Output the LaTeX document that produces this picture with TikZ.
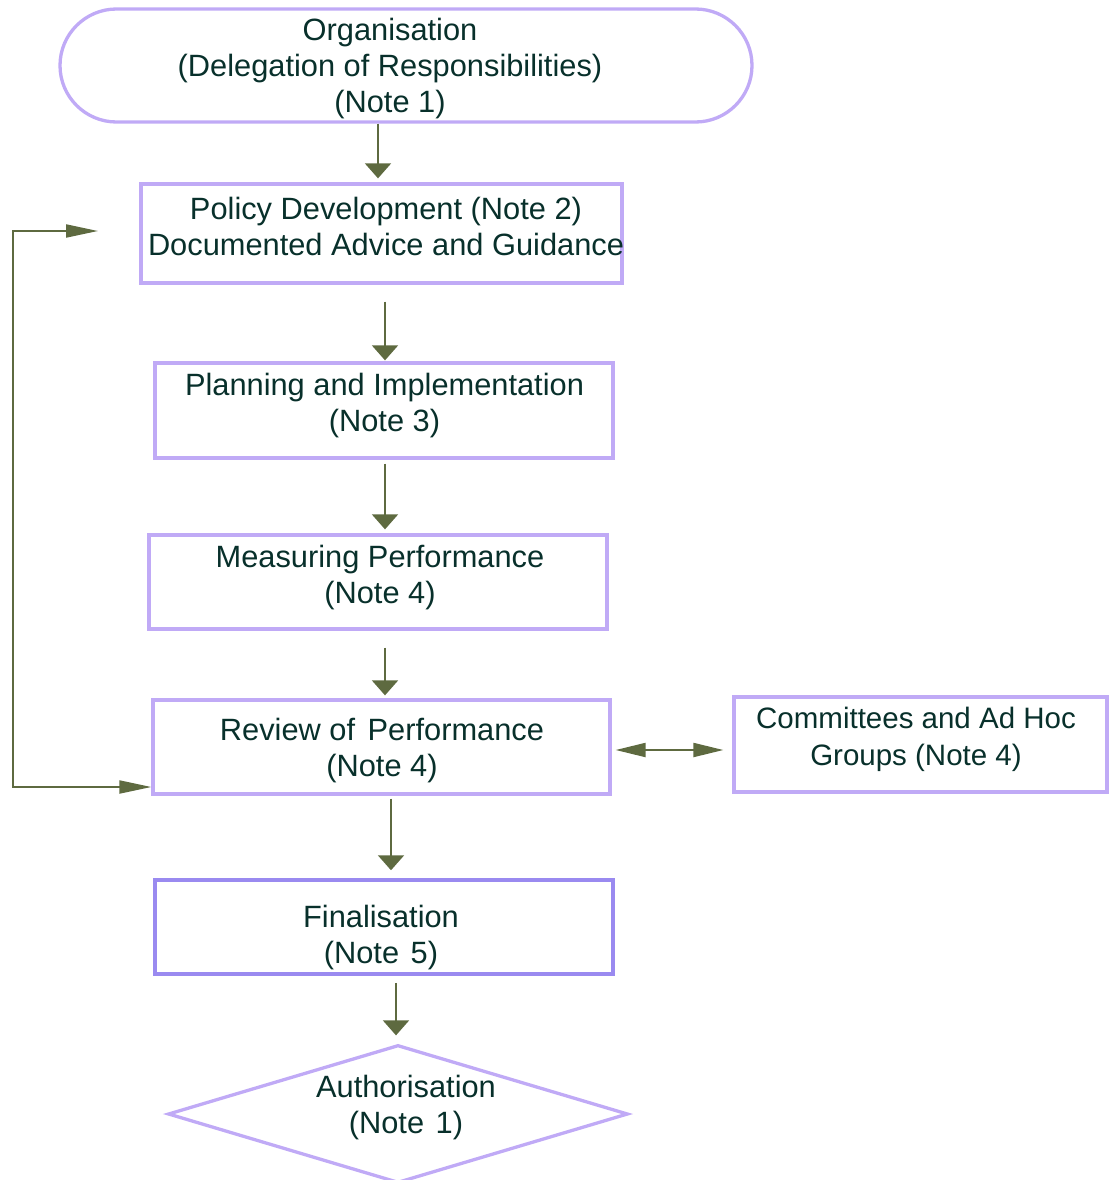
\documentclass[tikz,border=0pt]{standalone}
\usepackage{fontspec}
\setmainfont{Liberation Sans}
\usetikzlibrary{shapes.misc,shapes.geometric,arrows.meta}
\definecolor{lav}{HTML}{C0AAF6}
\definecolor{lavd}{HTML}{9A8AF0}
\definecolor{txtc}{HTML}{08302B}
\definecolor{arr}{HTML}{5E6A40}
\begin{document}
\begin{tikzpicture}[x=1pt,y=-1pt,
 box/.style={draw=lav,line width=3.3pt,rectangle,inner sep=0pt},
 txt/.style={text=txtc,font=\fontsize{30.8}{36}\selectfont,align=center,inner sep=0pt},
 varr/.style={draw=arr,line width=2pt,-{Triangle[length=15pt,width=26pt]}},
 harr/.style={draw=arr,line width=2pt,{Triangle[length=30pt,width=14pt]}-{Triangle[length=30pt,width=14pt]}},
]
\useasboundingbox (0,0) rectangle (1112,1180);
% shapes
\node[rounded rectangle,draw=lav,line width=3.3pt,inner sep=0pt,minimum width=692pt,minimum height=113pt] (org) at (406,65.5) {};
\node[box,minimum width=481pt,minimum height=99pt] (policy) at (381.5,233.5) {};
\node[box,minimum width=458pt,minimum height=95pt] (plan) at (384,410.5) {};
\node[box,minimum width=458pt,minimum height=94pt] (meas) at (378,582) {};
\node[box,minimum width=457pt,minimum height=94pt] (review) at (381.5,747) {};
\node[box,minimum width=373pt,minimum height=95pt] (comm) at (920.5,744.5) {};
\node[box,draw=lavd,line width=3.5pt,minimum width=458pt,minimum height=94pt] (final) at (384,927) {};
\node[diamond,draw=lav,line width=3.3pt,inner sep=0pt,minimum width=460pt,minimum height=138pt] (dia) at (398,1114) {};
% texts
\node[txt] (orgT) at (390,69) {Organisation\\(Delegation of Responsibilities)\\(Note 1)};
\node[txt] (policyT) at (386,226) {Policy Development (Note 2)\\Documented Advice and Guidance};
\node[txt] (planT) at (384.5,405.5) {Planning and Implementation\\(Note 3)};
\node[txt] (measT) at (380,578) {Measuring Performance\\(Note 4)};
\node[txt] (reviewT) at (382,751) {Review of\hspace{4pt} Performance\\(Note 4)};
\node[txt,font=\fontsize{29.5}{37}\selectfont] (commT) at (916,739) {Committees and Ad Hoc\\Groups (Note 4)};
\node[txt] (finalT) at (381,937.5) {Finalisation\\(Note\hspace{3pt} 5)};
\node[txt] (diaT) at (406,1107.5) {Authorisation\\(Note\hspace{3pt} 1)};
% connectors
\draw[varr] ([xshift=-28pt]org.south) -- ([xshift=-3.5pt,yshift=4pt]policy.north);
\draw[varr] ([xshift=3.5pt,yshift=-17pt]policy.south) -- ([xshift=1pt,yshift=1pt]plan.north);
\draw[varr] ([xshift=1pt,yshift=-4pt]plan.south) -- ([xshift=7pt,yshift=4pt]meas.north);
\draw[varr] ([xshift=7pt,yshift=-17pt]meas.south) -- ([xshift=3.5pt,yshift=3pt]review.north);
\draw[varr] ([xshift=9.5pt,yshift=-3pt]review.south) -- ([xshift=7pt,yshift=8pt]final.north);
\draw[varr] ([xshift=12pt,yshift=-7pt]final.south) -- ([xshift=-2pt,yshift=8pt]dia.north);
\draw[harr] ([xshift=4pt,yshift=-3pt]review.east) -- ([xshift=-9pt,yshift=-5.5pt]comm.west);
\coordinate (fbend) at (98,231);
\draw[draw=arr,line width=2pt,{Triangle[length=32pt,width=13pt]}-{Triangle[length=32pt,width=13pt]}] ([yshift=-40pt]review.west) -| (13,231) -- (fbend);
\end{tikzpicture}
\end{document}
